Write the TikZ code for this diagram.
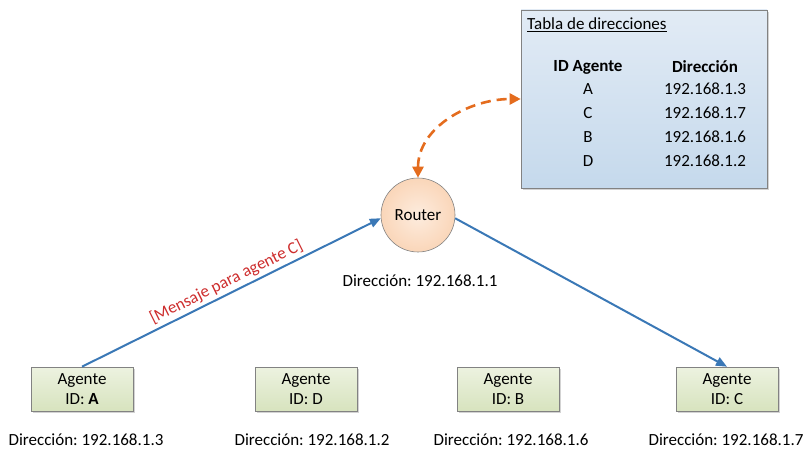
\documentclass[tikz,border=0pt]{standalone}
\usepackage{fontspec}
\setmainfont{Carlito}
\frenchspacing
\usetikzlibrary{arrows.meta,shadows}
\definecolor{linkblue}{RGB}{58,120,182}
\definecolor{dashorange}{RGB}{228,108,30}
\definecolor{msgred}{RGB}{205,45,45}
\definecolor{boxedge}{RGB}{130,130,130}
\begin{document}
\begin{tikzpicture}[x=1pt,y=-1pt,
  font=\fontsize{17}{20}\selectfont,
  agentbox/.style={draw=boxedge, line width=0.6pt, top color={rgb,255:red,237;green,242;blue,224},
    bottom color={rgb,255:red,215;green,227;blue,190}, minimum width=102pt, minimum height=44pt,
    align=center, inner sep=1pt, drop shadow={shadow xshift=2pt, shadow yshift=-2pt, opacity=0.35}},
  routerbox/.style={circle, draw=boxedge, line width=0.6pt, inner color={rgb,255:red,253;green,236;blue,222},
    outer color={rgb,255:red,250;green,214;blue,185}, minimum size=74pt, inner sep=0pt},
  tablebox/.style={draw=boxedge, line width=0.6pt, top color={rgb,255:red,226;green,235;blue,245},
    bottom color={rgb,255:red,197;green,217;blue,236}, minimum width=246pt, minimum height=178pt,
    drop shadow={shadow xshift=2pt, shadow yshift=-2pt, opacity=0.35}},
  link/.style={draw=linkblue, line width=2pt, -{Triangle[length=11pt,width=9pt]}},
  lookup/.style={draw=dashorange, line width=2.6pt, dash pattern=on 10pt off 6pt,
    {Triangle[length=11pt,width=11pt]}-{Triangle[length=11pt,width=11pt]}},
  addr/.style={inner sep=1pt},
  cell/.style={inner sep=1pt}]
\useasboundingbox (0,0) rectangle (806,449);

% address table
\node[tablebox] (table) at (644,99) {};
\node[cell, anchor=west] (ttitle) at (526,25) {\underline{Tabla de direcciones}};
\node[cell] (hid) at (588,67) {\textbf{ID Agente}};
\node[cell] (hdir) at (705,67) {\textbf{Dirección}};
\node[cell] (r1id) at (588,89) {A};
\node[cell] (r1ip) at (705,89) {192.168.1.3};
\node[cell] (r2id) at (588,113) {C};
\node[cell] (r2ip) at (705,113) {192.168.1.7};
\node[cell] (r3id) at (588,137) {B};
\node[cell] (r3ip) at (705,137) {192.168.1.6};
\node[cell] (r4id) at (588,161) {D};
\node[cell] (r4ip) at (705,161) {192.168.1.2};

% router
\node[routerbox] (router) at (418,215) {Router};
\node[addr] (routerip) at (420,281) {Dirección: 192.168.1.1};

% agents
\node[agentbox] (a) at (82,389) {Agente\\ID: \textbf{A}};
\node[agentbox] (d) at (306,389) {Agente\\ID: D};
\node[agentbox] (b) at (508,389) {Agente\\ID: B};
\node[agentbox] (c) at (727,389) {Agente\\ID: C};
\node[addr] (aip) at (86,440) {Dirección: 192.168.1.3};
\node[addr] (dip) at (312,440) {Dirección: 192.168.1.2};
\node[addr] (bip) at (511,440) {Dirección: 192.168.1.6};
\node[addr] (cip) at (726,440) {Dirección: 192.168.1.7};

% connectors
\draw[link] (a.north) -- node[pos=0.5, above, sloped, text=msgred, inner sep=3pt] {[Mensaje para agente C]} (router.185);
\draw[link] (router.-5) -- (c.north);
\draw[lookup] (router.north) to[out=90,in=180] (table.west);
\end{tikzpicture}
\end{document}
